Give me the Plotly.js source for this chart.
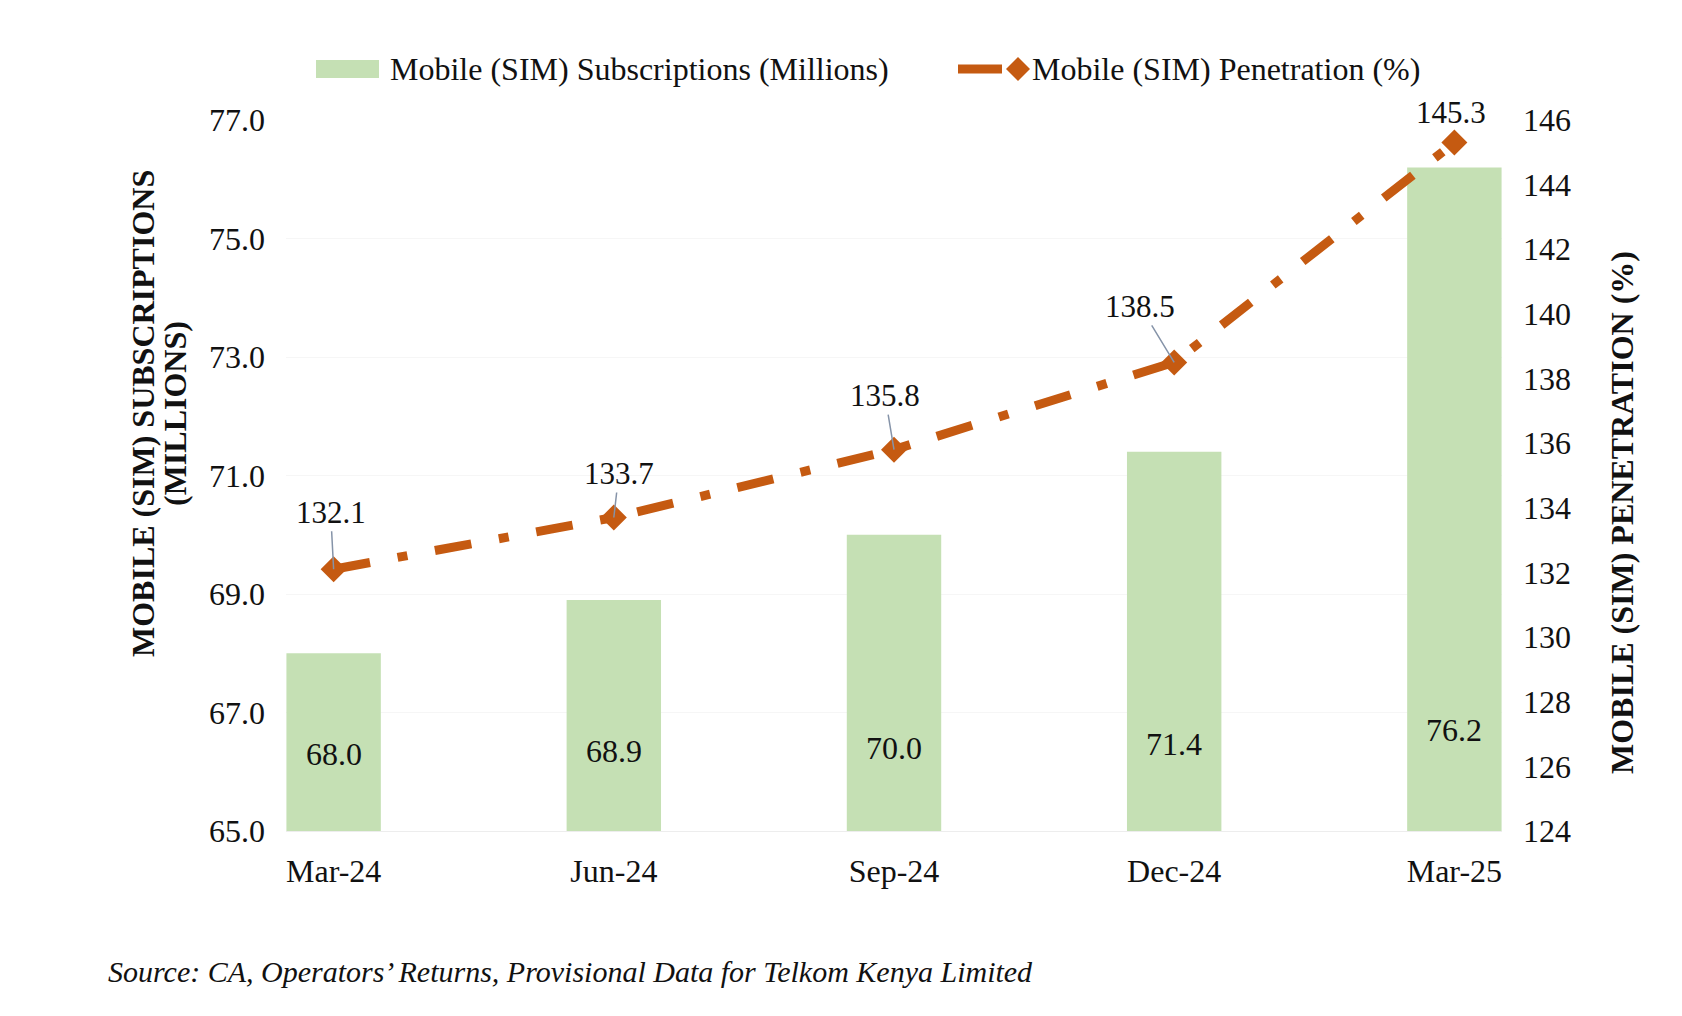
<!DOCTYPE html>
<html>
<head>
<meta charset="utf-8">
<script src="https://cdn.plot.ly/plotly-3.0.1.min.js"></script>
<style>
  html, body { margin: 0; padding: 0; background: #ffffff; }
  #chart { width: 1682px; height: 1016px; }
</style>
</head>
<body>
<div id="chart"></div>
<script>
// Quarterly mobile (SIM) subscriptions and penetration
const quarters = ["Mar-24", "Jun-24", "Sep-24", "Dec-24", "Mar-25"];
const subscriptions = [68.0, 68.9, 70.0, 71.4, 76.2];      // millions
const penetration = [132.1, 133.7, 135.8, 138.5, 145.3];    // percent
const leftTicks = [65, 67, 69, 71, 73, 75, 77];
const rightTicks = [124, 126, 128, 130, 132, 134, 136, 138, 140, 142, 144, 146];

const seriesNames = ["Mobile (SIM) Subscriptions (Millions)", "Mobile (SIM) Penetration (%)"];
const sourceNote = "Source: CA, Operators\u2019 Returns, Provisional Data for Telkom Kenya Limited";

const W = 1682, H = 1016;
const M = { l: 286, r: 180, t: 120, b: 185 };
const plotW = W - M.l - M.r, plotH = H - M.t - M.b;
const px = x => (x - M.l) / plotW;       // page pixel -> paper x
const py = y => (H - M.b - y) / plotH;   // page pixel -> paper y

const SERIF = "Liberation Serif, Times New Roman, serif";
const GREEN = "#C5E0B4";
const ORANGE = "#C55A11";
const INK = "#111111";

const bars = {
  type: "bar",
  x: quarters,
  y: subscriptions,
  name: seriesNames[0],
  marker: { color: GREEN, line: { width: 0 } },
  hoverinfo: "x+y",
  showlegend: false
};

const line = {
  type: "scatter",
  mode: "lines+markers",
  x: quarters,
  y: penetration,
  yaxis: "y2",
  name: seriesNames[1],
  line: { color: ORANGE, width: 9, dash: "37px,28px,10px,28px" },
  marker: { symbol: "diamond", size: 20, color: ORANGE },
  hoverinfo: "x+y",
  showlegend: false
};

// value labels inside the bars, near their base
const barLabels = quarters.map((q, i) => ({
  x: q, y: 66.3 + (subscriptions[i] - 68) * 0.05, xref: "x", yref: "y",
  text: subscriptions[i].toFixed(1), showarrow: false,
  font: { family: SERIF, size: 32, color: INK }
}));

// penetration labels with thin leader lines
const leaderOffsets = [[-3, -57], [5, -44], [-9, -54], [-34, -56], [-3, -30]];
const lineLabels = quarters.map((q, i) => {
  const last = i === quarters.length - 1;
  return {
    x: q, y: penetration[i], xref: "x", yref: "y2",
    text: penetration[i].toFixed(1),
    showarrow: !last,
    ax: leaderOffsets[i][0], ay: leaderOffsets[i][1],
    xshift: last ? leaderOffsets[i][0] : 0,
    yshift: last ? -leaderOffsets[i][1] : 0,
    arrowhead: 0, arrowwidth: 1.5, arrowcolor: "#8593A8", standoff: 0,
    font: { family: SERIF, size: 31, color: INK }
  };
});

const titleFont = { family: SERIF, size: 32, color: INK, weight: "bold" };
const textAnnotations = [
  { x: px(143), y: py(414), text: "<b>MOBILE (SIM) SUBSCRIPTIONS</b>", textangle: -90 },
  { x: px(175), y: py(414), text: "<b>(MILLIONS)</b>", textangle: -90 },
  { x: px(1622), y: py(513), text: "<b>MOBILE (SIM) PENETRATION (%)</b>", textangle: -90 }
].map(a => Object.assign({ xref: "paper", yref: "paper", showarrow: false,
  xanchor: "center", yanchor: "middle", font: titleFont }, a));

const legendAnnotations = [
  { x: px(388), y: py(69), text: seriesNames[0] },
  { x: px(1030), y: py(69), text: seriesNames[1] }
].map(a => Object.assign({ xref: "paper", yref: "paper", showarrow: false,
  xanchor: "left", yanchor: "middle", font: { family: SERIF, size: 32, color: INK } }, a));

const sourceAnnotation = {
  x: px(106), y: py(971), xref: "paper", yref: "paper", showarrow: false,
  xanchor: "left", yanchor: "middle", text: "<i>" + sourceNote + "</i>",
  font: { family: SERIF, size: 30, color: INK }
};

const legendShapes = [
  { type: "rect", xref: "paper", yref: "paper",
    x0: px(316), x1: px(379), y0: py(78), y1: py(60),
    fillcolor: GREEN, line: { width: 0 } },
  { type: "line", xref: "paper", yref: "paper",
    x0: px(958), x1: px(1002), y0: py(69), y1: py(69),
    line: { color: ORANGE, width: 9 } },
  { type: "path", xref: "paper", yref: "paper",
    path: `M ${px(1018)} ${py(57)} L ${px(1030)} ${py(69)} L ${px(1018)} ${py(81)} L ${px(1006)} ${py(69)} Z`,
    fillcolor: ORANGE, line: { width: 0 } }
];

const layout = {
  width: W, height: H,
  margin: M,
  paper_bgcolor: "#ffffff",
  plot_bgcolor: "#ffffff",
  bargap: 0.663,
  showlegend: false,
  font: { family: SERIF, color: INK },
  xaxis: {
    type: "category",
    range: [-0.17, 4.17],
    showgrid: false,
    showline: true, linecolor: "#EDEDED", linewidth: 1,
    ticks: "", ticklabelstandoff: 12,
    tickfont: { family: SERIF, size: 32, color: INK },
    fixedrange: true
  },
  yaxis: {
    range: [65, 77],
    tickvals: leftTicks,
    ticktext: leftTicks.map(v => v.toFixed(1)),
    showgrid: true, gridcolor: "#F6F6F6", gridwidth: 1,
    zeroline: false, showline: false,
    ticks: "", ticklabelstandoff: 20,
    tickfont: { family: SERIF, size: 32, color: INK },
    fixedrange: true
  },
  yaxis2: {
    overlaying: "y", side: "right",
    range: [124, 146],
    tickvals: rightTicks,
    showgrid: false, zeroline: false, showline: false,
    ticks: "", ticklabelstandoff: 20,
    tickfont: { family: SERIF, size: 32, color: INK },
    fixedrange: true
  },
  shapes: legendShapes,
  annotations: barLabels.concat(lineLabels, textAnnotations, legendAnnotations, [sourceAnnotation])
};

Plotly.newPlot("chart", [bars, line], layout, { displayModeBar: false, staticPlot: true });
</script>
</body>
</html>
